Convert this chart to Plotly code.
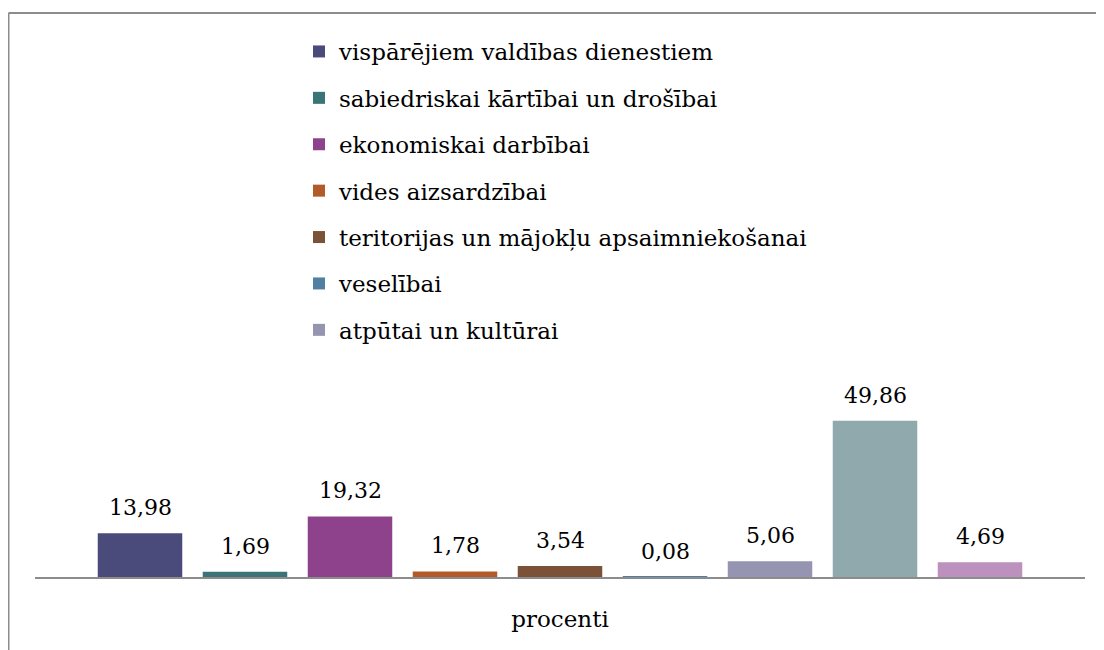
import plotly.graph_objects as go

# ---- data ----
series_names = [
    "vispārējiem valdības dienestiem",
    "sabiedriskai kārtībai un drošībai",
    "ekonomiskai darbībai",
    "vides aizsardzībai",
    "teritorijas un mājokļu apsaimniekošanai",
    "veselībai",
    "atpūtai un kultūrai",
    "izglītībai",
    "sociālajai aizsardzībai",
]
values = [13.98, 1.69, 19.32, 1.78, 3.54, 0.08, 5.06, 49.86, 4.69]
value_labels = ["13,98", "1,69", "19,32", "1,78", "3,54", "0,08", "5,06", "49,86", "4,69"]
in_legend = [True, True, True, True, True, True, True, False, False]
category_label = ["procenti"]

colors = ["#4a4a7b", "#3b7476", "#8e428c", "#b35a2a", "#7b5137",
          "#4f80a2", "#9695b1", "#8fa9ad", "#bd91bd"]

FONT = "DejaVu Serif"
# page has an 8px body margin, so the figure is sized to fit the 1104x650 window
W, H = 1096, 642
ML, MR, MT, MB = 27, 19, 381, 73

fig = go.Figure()
for i, (nm, v) in enumerate(zip(series_names, values)):
    fig.add_trace(go.Bar(
        x=[i], y=[v], name=nm, width=0.805,
        marker=dict(color=colors[i], line=dict(width=0)),
        showlegend=in_legend[i], legendgroup=f"g{i}",
        hoverinfo="name+y",
    ))

for i, (v, t) in enumerate(zip(values, value_labels)):
    fig.add_annotation(x=i, y=v, text=t, showarrow=False, yanchor="bottom",
                       yshift=11, font=dict(family=FONT, size=22, color="#000000"))

# frame lines (outer chart border, partly visible)
pw = W - ML - MR
ph = H - MT - MB
def px2x(p):
    return (p - ML) / pw
def py2y(p):
    return (H - MB - p) / ph

frame = dict(color="#8c8c8c", width=2)
fig.add_shape(type="line", xref="paper", yref="paper",
              x0=px2x(0.5), x1=px2x(W + 5), y0=py2y(5), y1=py2y(5), line=frame)
fig.add_shape(type="line", xref="paper", yref="paper",
              x0=px2x(0.5), x1=px2x(0.5), y0=py2y(5), y1=py2y(H + 5), line=frame)

fig.update_layout(
    width=W, height=H,
    margin=dict(l=ML, r=MR, t=MT, b=MB),
    paper_bgcolor="white", plot_bgcolor="white",
    font=dict(family=FONT, size=23, color="#000000"),
    barmode="overlay",
    xaxis=dict(range=[-1, 9], tickvals=[4], ticktext=category_label,
               showline=True, linecolor="#8c8c8c", linewidth=2,
               ticks="outside", ticklen=20, tickcolor="rgba(0,0,0,0)",
               showgrid=False, zeroline=False,
               tickfont=dict(family=FONT, size=23, color="#000000")),
    yaxis=dict(range=[0, 60], visible=False, showgrid=False, zeroline=False),
    legend=dict(orientation="v", xref="paper", yref="container",
                x=px2x(291), y=1 - 22 / H, xanchor="left", yanchor="top",
                font=dict(family=FONT, size=23, color="#000000"),
                tracegroupgap=13.5, traceorder="grouped", maxheight=600,
                bgcolor="rgba(0,0,0,0)", borderwidth=0),
    showlegend=True,
)

fig.write_html("out.html")
